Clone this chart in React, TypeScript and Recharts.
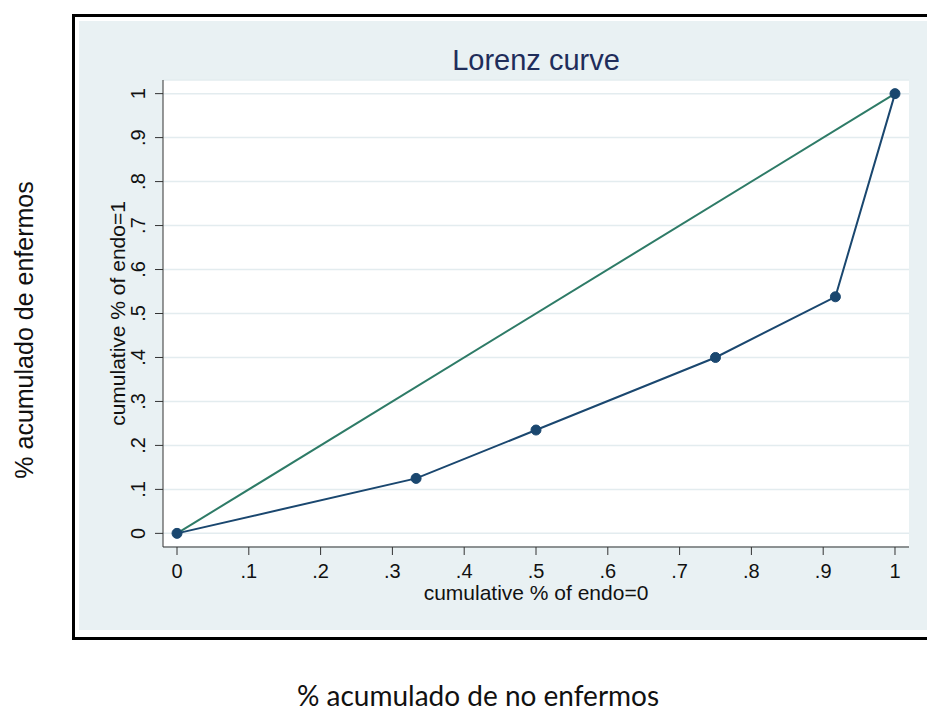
import React from 'react'
import { LineChart, Line, XAxis, YAxis, CartesianGrid } from 'recharts'

// cumulative shares for the Lorenz curve
const lorenzX = [0, 0.333, 0.5, 0.75, 0.917, 1]
const lorenzY = [0, 0.125, 0.235, 0.4, 0.538, 1]

// line of equality
const equalityX = [0, 1]
const equalityY = [0, 1]

const tickValues = [0, 0.1, 0.2, 0.3, 0.4, 0.5, 0.6, 0.7, 0.8, 0.9, 1]
const tickLabels = ['0', '.1', '.2', '.3', '.4', '.5', '.6', '.7', '.8', '.9', '1']

const NAVY = '#1A476F'
const GREEN = '#2E7B67'
const BG = '#E9F1F3'
const FONT = '"Liberation Sans", Arial, sans-serif'

const lorenzData = lorenzX.map((x, i) => ({ x, y: lorenzY[i] }))
const equalityData = equalityX.map((x, i) => ({ x, y: equalityY[i] }))

const fmt = (v: number) => tickLabels[tickValues.findIndex((t) => Math.abs(t - v) < 1e-6)] ?? String(v)

const YTick = (props: any) => {
  const { x, y, payload } = props
  return (
    <text
      x={x}
      y={y}
      transform={`rotate(-90 ${x} ${y})`}
      textAnchor="middle"
      fontSize={20}
      fontFamily={FONT}
      fill="#111"
    >
      {fmt(payload.value)}
    </text>
  )
}

export default function App() {
  return (
    <div
      style={{
        position: 'absolute',
        left: 0,
        top: 0,
        width: 927,
        height: 711,
        background: '#fff',
        overflow: 'hidden',
        fontFamily: FONT,
      }}
    >
      <div
        style={{
          position: 'absolute',
          left: 72,
          top: 14,
          width: 900,
          height: 626,
          border: '3px solid #000',
          boxSizing: 'border-box',
        }}
      />
      <div style={{ position: 'absolute', left: 79, top: 21, width: 848, height: 609, background: BG }}>
        <LineChart width={848} height={609} margin={{ top: 59, right: 18, left: 8, bottom: 0 }}>
          <CartesianGrid vertical={false} fill="#fff" stroke="#E3ECEF" strokeWidth={1.5} />
          <XAxis
            type="number"
            dataKey="x"
            domain={[-0.0195, 1.0195]}
            ticks={tickValues}
            tickFormatter={fmt}
            allowDataOverflow
            height={83}
            tickSize={8}
            tickMargin={9}
            stroke="#333"
            tick={{ fontSize: 20, fill: '#111', fontFamily: FONT }}
            label={{
              value: 'cumulative % of endo=0',
              position: 'insideBottom',
              offset: 30,
              fontSize: 21,
              fill: '#111',
              fontFamily: FONT,
            }}
          />
          <YAxis
            type="number"
            dataKey="y"
            domain={[-0.031, 1.031]}
            ticks={tickValues}
            allowDataOverflow
            width={76}
            tickSize={8}
            tickMargin={10}
            stroke="#333"
            tick={<YTick />}
            label={{
              value: 'cumulative % of endo=1',
              angle: -90,
              position: 'insideLeft',
              offset: 31,
              fontSize: 21,
              fill: '#111',
              fontFamily: FONT,
              style: { textAnchor: 'middle' },
            }}
          />
          <Line
            data={equalityData}
            dataKey="y"
            type="linear"
            stroke={GREEN}
            strokeWidth={2}
            dot={false}
            isAnimationActive={false}
          />
          <Line
            data={lorenzData}
            dataKey="y"
            type="linear"
            stroke={NAVY}
            strokeWidth={2}
            dot={{ r: 5, fill: NAVY, stroke: NAVY, strokeWidth: 1 }}
            isAnimationActive={false}
          />
        </LineChart>
      </div>
      <svg
        width={927}
        height={711}
        style={{ position: 'absolute', left: 0, top: 0, pointerEvents: 'none' }}
      >
        <text x={536} y={70} textAnchor="middle" fontSize={29} fontFamily={FONT} fill="#1F2D5A">
          Lorenz curve
        </text>
        <text
          x={33}
          y={330}
          transform="rotate(-90 33 330)"
          textAnchor="middle"
          fontSize={25}
          fontFamily={FONT}
          fill="#111"
        >
          % acumulado de enfermos
        </text>
        <text
          x={478}
          y={706}
          textAnchor="middle"
          fontSize={28}
          fontFamily='Lato, "Open Sans", sans-serif'
          fill="#111"
        >
          % acumulado de no enfermos
        </text>
      </svg>
    </div>
  )
}
